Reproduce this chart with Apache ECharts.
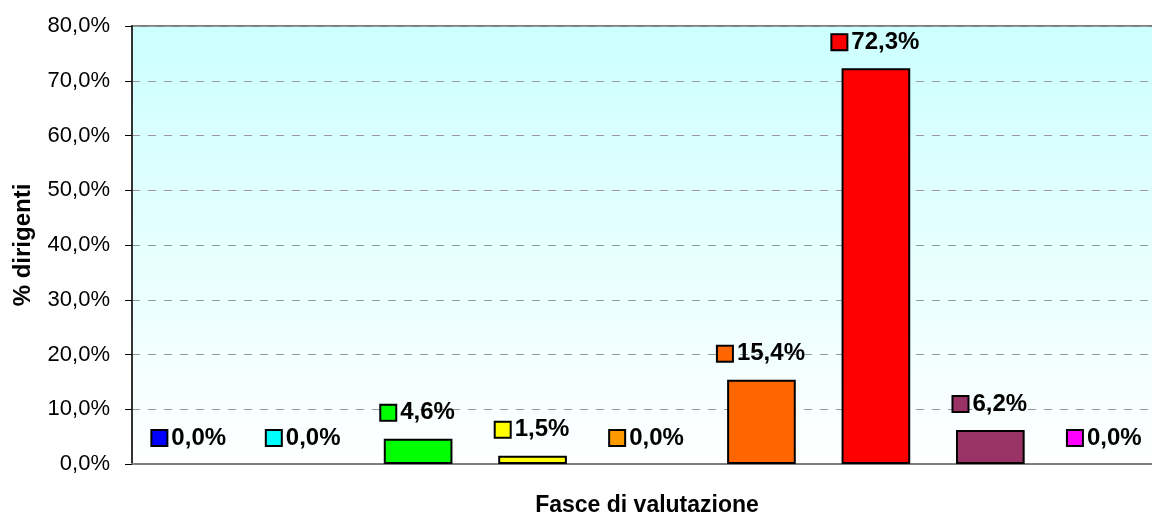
<!DOCTYPE html>
<html>
<head>
<meta charset="utf-8">
<script src="https://cdn.jsdelivr.net/npm/echarts@6/dist/echarts.min.js"></script>
<style>html,body{margin:0;padding:0;background:#fff}#c{width:1152px;height:513px}</style>
</head>
<body>
<div id="c"></div>
<script>
const categories = ['Fascia 1','Fascia 2','Fascia 3','Fascia 4','Fascia 5','Fascia 6','Fascia 7','Fascia 8','Fascia 9'];
const values = [0.0, 0.0, 4.6, 1.5, 0.0, 15.4, 72.3, 6.2, 0.0];
const colors = ['#0000FF','#00FFFF','#00FF00','#FFFF00','#FF9900','#FF6600','#FF0000','#993366','#FF00FF'];
const yTicks = [0,10,20,30,40,50,60,70,80];

const FONT = "'Liberation Sans', Arial, sans-serif";
const fmt = v => v.toFixed(1).replace('.', ',') + '%';

const rich = { v: { fontFamily: FONT, fontWeight: 'bold', fontSize: 24, color: '#000', padding: [0,0,0,5], lineHeight: 26 } };
colors.forEach((c, i) => {
  rich['m' + i] = { width: 14, height: 14, backgroundColor: c, borderColor: '#000', borderWidth: 2 };
});

const data = values.map((v, i) => ({
  value: v,
  itemStyle: { color: colors[i], borderColor: '#000', borderWidth: v === 0 ? 0 : 2 }
}));

const chart = echarts.init(document.getElementById('c'), null, { renderer: 'canvas' });
chart.setOption({
  animation: false,
  textStyle: { fontFamily: FONT },
  grid: {
    left: 132, top: 26, width: 1030, bottom: 49,
    outerBoundsMode: 'none',
    containLabel: false,
    show: true,
    borderColor: '#808080', borderWidth: 2,
    backgroundColor: new echarts.graphic.LinearGradient(0, 0, 0, 1, [
      { offset: 0, color: '#CCFFFF' },
      { offset: 1, color: '#FFFFFF' }
    ])
  },
  xAxis: {
    type: 'category',
    data: categories,
    name: 'Fasce di valutazione',
    nameLocation: 'middle',
    nameGap: 30,
    nameTextStyle: { fontFamily: FONT, fontWeight: 'bold', fontSize: 23, color: '#000' },
    axisLine: { lineStyle: { color: '#808080', width: 2 } },
    axisTick: { show: false },
    axisLabel: { show: false }
  },
  yAxis: {
    type: 'value',
    min: yTicks[0], max: yTicks[yTicks.length - 1], interval: 10,
    name: '% dirigenti',
    nameLocation: 'middle',
    nameGap: 97,
    nameRotate: 90,
    nameMoveOverlap: false,
    nameTextStyle: { fontFamily: FONT, fontWeight: 'bold', fontSize: 24, color: '#000' },
    axisLine: { show: true, lineStyle: { color: '#333', width: 2 } },
    axisTick: { show: true, length: 7, lineStyle: { color: '#000', width: 1 } },
    axisLabel: { margin: 22, fontFamily: FONT, fontSize: 22, color: '#000', formatter: v => fmt(v) },
    splitLine: { show: true, lineStyle: { color: '#999', type: [8, 8], width: 1 } }
  },
  series: [{
    type: 'bar',
    data: data,
    barWidth: '60%',
    label: {
      show: true,
      position: 'top',
      distance: 13,
      formatter: p => '{m' + p.dataIndex + '|}{v|' + fmt(p.value) + '}',
      rich: rich
    }
  }]
});
</script>
</body>
</html>
